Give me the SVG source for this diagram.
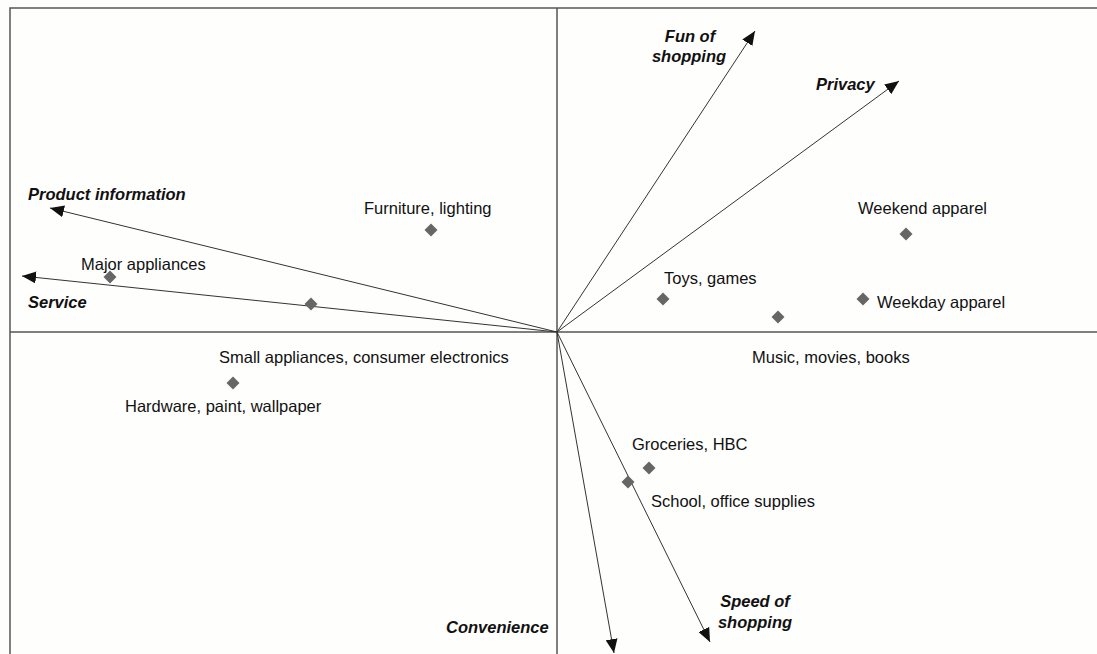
<svg xmlns="http://www.w3.org/2000/svg" width="1097" height="654" viewBox="0 0 1097 654">
  <style>
    .frame { stroke: #555; stroke-width: 1.5; fill: none; }
    .vec { stroke: #333; stroke-width: 1; fill: none; marker-end: url(#head); }
    .pt { fill: #666; }
    .lbl { font-family: "Liberation Sans", Arial, sans-serif; font-size: 16.5px; fill: #111; }
    .dim { font-family: "Liberation Sans", Arial, sans-serif; font-size: 16.5px; font-weight: bold; font-style: italic; fill: #111; }
  </style>
  <defs>
    <marker id="head" markerUnits="userSpaceOnUse" markerWidth="15" markerHeight="12" refX="14" refY="6" orient="auto">
      <path d="M0,0 L14,6 L0,12 z" fill="#111"/>
    </marker>
    <path id="dia" d="M0,-6.5 L6.5,0 L0,6.5 L-6.5,0 z"/>
  </defs>
  <rect width="1097" height="654" fill="#fefefd"/>

  <!-- plot frame and axes -->
  <g id="axes">
    <polyline class="frame" points="10,654 10,8 1097,8"/>
    <line class="frame" x1="10" y1="332" x2="1097" y2="332"/>
    <line class="frame" x1="557" y1="8" x2="557" y2="654"/>
  </g>

  <!-- attribute vectors from the origin -->
  <g id="connectors">
    <line class="vec" x1="557" y1="332" x2="755" y2="31"/>
    <line class="vec" x1="557" y1="332" x2="899" y2="81"/>
    <line class="vec" x1="557" y1="332" x2="50" y2="208"/>
    <line class="vec" x1="557" y1="332" x2="22" y2="276"/>
    <line class="vec" x1="557" y1="332" x2="614" y2="653"/>
    <line class="vec" x1="557" y1="332" x2="710" y2="642"/>
  </g>

  <!-- attribute labels -->
  <g id="dim-fun"><text class="dim" x="690" y="42" text-anchor="middle">Fun of</text><text class="dim" x="689" y="62" text-anchor="middle">shopping</text></g>
  <g id="dim-privacy"><text class="dim" x="816" y="90">Privacy</text></g>
  <g id="dim-product"><text class="dim" x="28" y="200">Product information</text></g>
  <g id="dim-service"><text class="dim" x="28" y="308">Service</text></g>
  <g id="dim-convenience"><text class="dim" x="446" y="633">Convenience</text></g>
  <g id="dim-speed"><text class="dim" x="755" y="607" text-anchor="middle">Speed of</text><text class="dim" x="755" y="628" text-anchor="middle">shopping</text></g>

  <!-- product categories -->
  <g id="furniture"><use href="#dia" class="pt" x="431" y="230"/><text class="lbl" x="364" y="214">Furniture, lighting</text></g>
  <g id="major-appliances"><use href="#dia" class="pt" x="110" y="277"/><text class="lbl" x="81" y="270">Major appliances</text></g>
  <g id="small-appliances"><use href="#dia" class="pt" x="311" y="304"/><text class="lbl" x="219" y="363">Small appliances, consumer electronics</text></g>
  <g id="hardware"><use href="#dia" class="pt" x="233" y="383"/><text class="lbl" x="125" y="412">Hardware, paint, wallpaper</text></g>
  <g id="weekend-apparel"><use href="#dia" class="pt" x="906" y="234"/><text class="lbl" x="858" y="214">Weekend apparel</text></g>
  <g id="toys"><use href="#dia" class="pt" x="663" y="299"/><text class="lbl" x="664" y="284">Toys, games</text></g>
  <g id="music"><use href="#dia" class="pt" x="778" y="317"/><text class="lbl" x="752" y="363">Music, movies, books</text></g>
  <g id="weekday-apparel"><use href="#dia" class="pt" x="863" y="299"/><text class="lbl" x="877" y="308">Weekday apparel</text></g>
  <g id="groceries"><use href="#dia" class="pt" x="649" y="468"/><text class="lbl" x="632" y="450">Groceries, HBC</text></g>
  <g id="school"><use href="#dia" class="pt" x="628" y="482"/><text class="lbl" x="651" y="507">School, office supplies</text></g>
</svg>
